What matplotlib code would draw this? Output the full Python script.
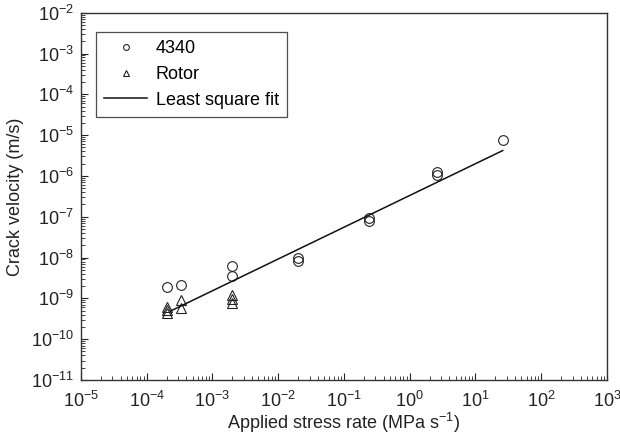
import numpy as np
import matplotlib.pyplot as plt

plt.rcParams['font.family'] = ['Liberation Sans', 'DejaVu Sans']
plt.rcParams['mathtext.default'] = 'regular'

# 4340 steel
rate_4340 = [2.0e-4, 3.3e-4, 2.0e-3, 2.0e-3, 2.0e-2, 2.0e-2, 2.4e-1, 2.4e-1, 2.6, 2.6, 25.8]
vel_4340 = [1.9e-9, 2.1e-9, 6.3e-9, 3.6e-9, 1.0e-8, 8.3e-9, 9.5e-8, 7.9e-8, 1.27e-6, 1.05e-6, 7.6e-6]

# rotor steel
rate_rotor = [2.0e-4, 2.0e-4, 2.0e-4, 3.3e-4, 3.3e-4, 2.0e-3, 2.0e-3, 2.0e-3]
vel_rotor = [6.2e-10, 5.2e-10, 4.5e-10, 9.1e-10, 5.7e-10, 1.2e-9, 9.4e-10, 7.8e-10]

# least square fit end points
fit_rate = [2.3e-4, 26.0]
fit_vel = [4.9e-10, 4.2e-6]

fig = plt.figure(figsize=(6.2, 4.43), dpi=100)
ax = fig.add_axes([0.1306, 0.1422, 0.8484, 0.8291])

ax.plot(rate_4340, vel_4340, 'o', mfc='none', mec='#222222', ms=7, mew=0.8, label='4340')
ax.plot(rate_rotor, vel_rotor, '^', mfc='none', mec='#222222', ms=7, mew=0.8, label='Rotor')
ax.plot(fit_rate, fit_vel, '-', color='#111111', lw=1.1, label='Least square fit')

ax.set_xscale('log')
ax.set_yscale('log')
ax.set_xlim(1e-5, 1e3)
ax.set_ylim(1e-11, 1e-2)
ax.xaxis.set_major_locator(plt.LogLocator(base=10, numticks=20))
ax.yaxis.set_major_locator(plt.LogLocator(base=10, numticks=20))
ax.xaxis.set_minor_locator(plt.LogLocator(base=10, subs=np.arange(2, 10), numticks=20))
ax.yaxis.set_minor_locator(plt.LogLocator(base=10, subs=np.arange(2, 10), numticks=20))
ax.xaxis.set_minor_formatter(plt.NullFormatter())
ax.yaxis.set_minor_formatter(plt.NullFormatter())

ax.tick_params(which='both', direction='in', top=False, right=False, labelsize=13, colors='#222222')
ax.tick_params(which='major', length=5, width=0.8)
ax.tick_params(axis='x', which='major', pad=8)
ax.tick_params(axis='y', which='major', pad=5)
ax.tick_params(which='minor', length=3, width=0.6)
for s in ax.spines.values():
    s.set_color('#333333')
    s.set_linewidth(1.0)

ax.set_xlabel('Applied stress rate (MPa s$^{-1}$)', fontsize=13, color='#222222', labelpad=0)
ax.set_ylabel('Crack velocity (m/s)', fontsize=13, color='#222222', labelpad=5)

leg = ax.legend(loc='upper left', bbox_to_anchor=(0.0285, 0.947), borderaxespad=0,
                fancybox=False, edgecolor='#222222', fontsize=13, markerscale=0.6,
                handlelength=2.4, handletextpad=0.45, borderpad=0.45, labelspacing=0.48)
leg.get_frame().set_linewidth(0.9)

fig.savefig('out.png', dpi=100)
